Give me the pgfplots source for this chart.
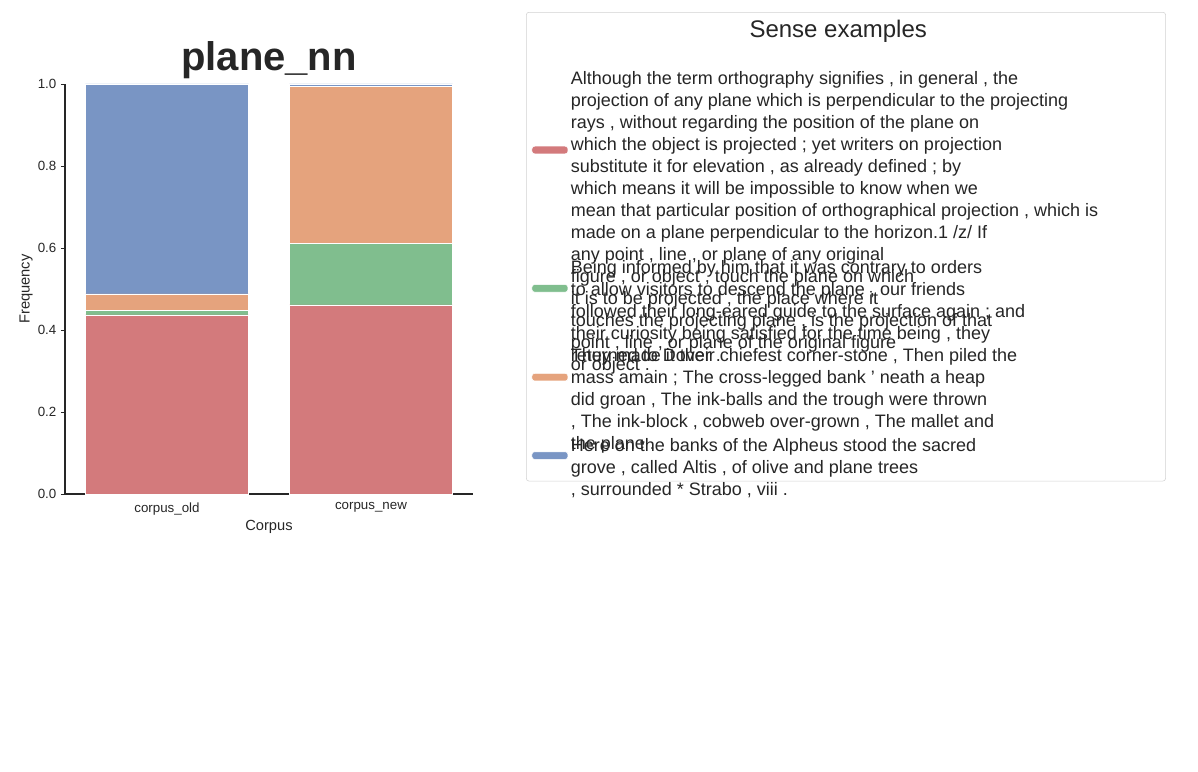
\documentclass[border=0pt]{standalone}
\usepackage{pgfplots}
\pgfplotsset{compat=1.18}
\usepackage{fontspec}
\setmainfont{Liberation Sans}
\definecolor{cr}{RGB}{211,122,124}
\definecolor{cg}{RGB}{128,190,142}
\definecolor{co}{RGB}{229,163,125}
\definecolor{cb}{RGB}{121,149,196}
\definecolor{tx}{RGB}{38,38,38}
\newcommand{\lent}[1]{\parbox{440pt}{\fontsize{13.5}{16.5}\selectfont\raggedright #1}}
\begin{document}
\begin{tikzpicture}
\useasboundingbox (-48.75pt,-207.75pt) rectangle (849.75pt,370.5pt);
\begin{axis}[name=ax,
  scale only axis, width=306pt, height=307.5pt,
  ybar stacked, bar width=0.8,
  xmin=-0.5, xmax=1.5, ymin=0, ymax=1,
  xtick={0,1}, xticklabels={corpus\_old,corpus\_new},
  ytick={0,0.2,0.4,0.6,0.8,1.0},
  yticklabel style={/pgf/number format/.cd,fixed,fixed zerofill,precision=1},
  /pgf/number format/assume math mode=true,
  axis x line*=bottom, axis y line*=left,
  axis line style={tx, line width=1pt},
  x tick style={draw=none}, y tick style={tx},
  major tick length=3pt, tick align=outside,
  ticklabel style={font=\fontsize{10}{12}\selectfont, text=tx},
  xlabel={Corpus}, ylabel={Frequency},
  label style={font=\fontsize{11}{13}\selectfont, text=tx},
  xlabel style={yshift=3pt}, ylabel style={yshift=-3pt},
  title={\textbf{plane\_nn}}, title style={font=\fontsize{30}{34}\selectfont, text=tx, yshift=-6pt},
  legend cell align=left,
  legend style={at={(1.130,1.1756)}, anchor=north west, draw={rgb,255:red,210;green,210;blue,210}, rounded corners=2pt,
     inner sep=4pt, row sep=20pt, text=tx,
     /tikz/every even column/.append style={column sep=4pt}},
  legend image code/.code={\fill (0cm,-0.1cm) rectangle (0.95cm,0.1cm);},
]
\addlegendimage{empty legend}
\addplot[fill=cr, draw=white] coordinates {(0,0.437) (1,0.461)};
\addplot[fill=cg, draw=white] coordinates {(0,0.010) (1,0.151)};
\addplot[fill=co, draw=white] coordinates {(0,0.041) (1,0.383)};
\addplot[fill=cb, draw=white] coordinates {(0,0.512) (1,0.005)};
\addlegendentry{\makebox[440pt]{\hspace*{-39pt}\fontsize{18}{22}\selectfont Sense examples}}
\addlegendentry{\lent{Although the term orthography signifies , in general , the\\projection of any plane which is perpendicular to the projecting\\rays , without regarding the position of the plane on\\which the object is projected ; yet writers on projection\\substitute it for elevation , as already defined ; by\\which means it will be impossible to know when we\\mean that particular position of orthographical projection , which is\\made on a plane perpendicular to the horizon.1 /z/ If\\any point , line , or plane of any original\\figure , or object , touch the plane on which\\it is to be projected , the place where it\\touches the projecting plane , is the projection of that\\point , line , or plane of the original figure\\or object .}}
\addlegendentry{\lent{Being informed by him that it was contrary to orders\\to allow visitors to descend the plane , our friends\\followed their long-eared guide to the surface again ; and\\their curiosity being satisfied for the time being , they\\returned to Dover .}}
\addlegendentry{\lent{They made it their chiefest corner-stone , Then piled the\\mass amain ; The cross-legged bank ' neath a heap\\did groan , The ink-balls and the trough were thrown\\, The ink-block , cobweb over-grown , The mallet and\\the plane .}}
\addlegendentry{\lent{Here on the banks of the Alpheus stood the sacred\\grove , called Altis , of olive and plane trees\\, surrounded * Strabo , viii .}}
\end{axis}
\end{tikzpicture}
\end{document}
